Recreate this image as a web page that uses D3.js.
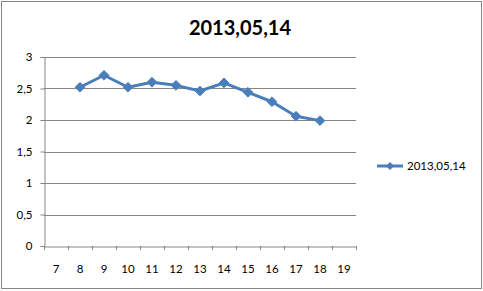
<!DOCTYPE html>
<html>
<head>
<meta charset="utf-8">
<script src="https://cdn.jsdelivr.net/npm/d3@7"></script>
<style>
  body { margin: 0; background: #fff; }
  text { font-family: Lato, "Open Sans", sans-serif; }
</style>
</head>
<body>
<script>
// chart data
var categories = ["7", "8", "9", "10", "11", "12", "13", "14", "15", "16", "17", "18", "19"];
var seriesName = "2013,05,14";
var seriesDays = ["8", "9", "10", "11", "12", "13", "14", "15", "16", "17", "18"];
var seriesValues = [2.52, 2.71, 2.52, 2.60, 2.55, 2.46, 2.59, 2.44, 2.29, 2.06, 1.99];
var yTicks = [0, 0.5, 1, 1.5, 2, 2.5, 3];
var title = "2013,05,14";

var W = 483, H = 291;
var margin = { top: 57, left: 44, right: 126, bottom: 45 };
var plotH = H - margin.top - margin.bottom;   // 189
var lineColor = "#4a7ebb";
var gridColor = "#868686";

var svg = d3.select("body").append("svg")
  .attr("width", W).attr("height", H);

// outer chart border
svg.append("rect")
  .attr("x", 1.5).attr("y", 1.5)
  .attr("width", W - 3).attr("height", H - 4)
  .attr("fill", "#fff").attr("stroke", gridColor).attr("stroke-width", 1);

// title
svg.append("text")
  .attr("x", 240).attr("y", 35)
  .attr("text-anchor", "middle")
  .attr("font-size", 20).attr("font-weight", "bold")
  .attr("fill", "#000")
  .text(title);

var x = d3.scaleBand().domain(categories).range([0, 312]);
var y = d3.scaleLinear().domain([0, 3]).range([plotH, 0]);

var g = svg.append("g")
  .attr("transform", "translate(" + margin.left + "," + margin.top + ")");

// gridlines
g.selectAll(".grid").data(yTicks.filter(d => d > 0)).enter().append("line")
  .attr("x1", 0).attr("x2", 312)
  .attr("y1", d => Math.round(y(d)) + 0.5).attr("y2", d => Math.round(y(d)) + 0.5)
  .attr("stroke", gridColor).attr("stroke-width", 1);

// y axis
var fmt = d => String(d).replace(".", ",");
var yAxis = g.append("g").attr("transform", "translate(0.5,0)")
  .call(d3.axisLeft(y).tickValues(yTicks).tickFormat(fmt).tickSize(4).tickPadding(8));
yAxis.select(".domain").attr("stroke", gridColor);
yAxis.selectAll(".tick line").attr("stroke", gridColor);
yAxis.selectAll(".tick text").attr("font-size", 11.5).attr("fill", "#000")
  .style("font-family", "Lato, 'Open Sans', sans-serif");

// x axis (ticks between categories)
var xAxis = g.append("g").attr("transform", "translate(0," + (Math.round(plotH) + 0.5) + ")")
  .call(d3.axisBottom(x).tickSize(0).tickPadding(18));
xAxis.select(".domain").attr("stroke", gridColor);
xAxis.selectAll(".tick text").attr("font-size", 11.5).attr("fill", "#000")
  .style("font-family", "Lato, 'Open Sans', sans-serif");
g.selectAll(".xtick").data(categories.concat(["end"])).enter().append("line")
  .attr("x1", (d, i) => Math.round(i * x.step()) + 0.5)
  .attr("x2", (d, i) => Math.round(i * x.step()) + 0.5)
  .attr("y1", plotH).attr("y2", plotH + 4)
  .attr("stroke", gridColor);

// series
var pts = seriesDays.map((d, i) => [x(d) + x.bandwidth() / 2, y(seriesValues[i])]);
g.append("path")
  .attr("d", d3.line()(pts))
  .attr("fill", "none").attr("stroke", lineColor)
  .attr("stroke-width", 3).attr("stroke-linejoin", "round");
var diamond = d3.symbol().type(d3.symbolDiamond2).size(60);
g.selectAll(".pt").data(pts).enter().append("path")
  .attr("d", diamond)
  .attr("transform", d => "translate(" + d[0] + "," + d[1] + ")")
  .attr("fill", lineColor).attr("stroke", lineColor);

// legend
var lg = svg.append("g").attr("transform", "translate(377,166)");
lg.append("line").attr("x1", 0).attr("x2", 26).attr("y1", 0).attr("y2", 0)
  .attr("stroke", lineColor).attr("stroke-width", 3);
lg.append("path").attr("d", d3.symbol().type(d3.symbolDiamond2).size(40))
  .attr("transform", "translate(13,0)").attr("fill", lineColor);
lg.append("text").attr("x", 30).attr("y", 4)
  .attr("font-size", 11.5).attr("fill", "#000").text(seriesName);
</script>
</body>
</html>
